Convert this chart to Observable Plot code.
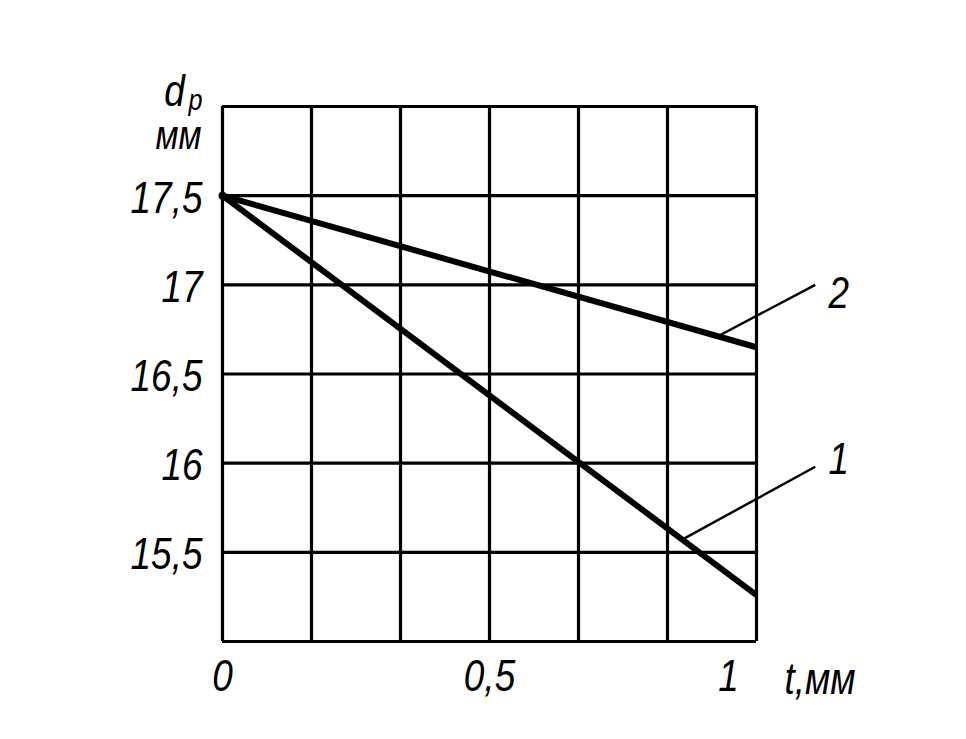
<!DOCTYPE html>
<html>
<head>
<meta charset="utf-8">
<script src="https://cdn.jsdelivr.net/npm/d3@7"></script>
<script src="https://cdn.jsdelivr.net/npm/@observablehq/plot@0.6"></script>
<style>
  html, body { margin: 0; padding: 0; background: #fff; }
  svg { display: block; }
</style>
</head>
<body>
<div id="chart"></div>
<script>
// Data
const tValues = [0, 1];                 // t, мм
const series1 = [17.5, 15.26];          // curve 1, d_p мм
const series2 = [17.5, 16.65];          // curve 2, d_p мм
const gridX = [0, 1/6, 2/6, 3/6, 4/6, 5/6, 1];
const gridY = [15, 15.5, 16, 16.5, 17, 17.5, 18];
const yTicks = [15.5, 16, 16.5, 17, 17.5];
const yTickLabels = ["15,5", "16", "16,5", "17", "17,5"];
const xTicks = [0, 0.5];
const xTickLabels = ["0", "0,5"];
const xLastTick = [1];
const xLastTickLabel = ["1"];
const curveNames = ["1", "2"];
// leader lines: [t on curve, d on curve, t at label, d at label]
const leader1 = [0.86, 15.57, 1.11, 15.98];
const leader2 = [0.927, 16.71, 1.11, 17.0];
const labelPos1 = [1.154, 16.02];
const labelPos2 = [1.154, 16.95];

const lines = [
  ...tValues.map((t, i) => ({t, d: series1[i], s: "1"})),
  ...tValues.map((t, i) => ({t, d: series2[i], s: "2"}))
];
const leaders = [
  {x1: leader1[0], y1: leader1[1], x2: leader1[2], y2: leader1[3]},
  {x1: leader2[0], y1: leader2[1], x2: leader2[2], y2: leader2[3]}
];
const curveLabels = [
  {t: labelPos1[0], d: labelPos1[1], text: curveNames[0]},
  {t: labelPos2[0], d: labelPos2[1], text: curveNames[1]}
];

const FONT = "'Liberation Sans', sans-serif";
const T = {fontStyle: "italic", fill: "#000", lineAnchor: "middle"};

const chart = Plot.plot({
  width: 966,
  height: 739,
  marginLeft: 222,
  marginRight: 210,
  marginTop: 106,
  marginBottom: 98,
  style: {background: "#fff", fontFamily: FONT, overflow: "visible"},
  x: {domain: [0, 1], axis: null},
  y: {domain: [15, 18], axis: null},
  marks: [
    Plot.ruleX(gridX, {x: d => d, y1: 15, y2: 18, stroke: "#000", strokeWidth: 3.2}),
    Plot.ruleY(gridY, {y: d => d, x1: 0, x2: 1, stroke: "#000", strokeWidth: 3.2}),
    Plot.line(lines, {x: "t", y: "d", z: "s", stroke: "#000", strokeWidth: 6, strokeLinecap: "butt"}),
    Plot.dot([{t: 0, d: 17.5}], {x: "t", y: "d", r: 4, fill: "#000"}),
    Plot.link(leaders, {x1: "x1", y1: "y1", x2: "x2", y2: "y2", stroke: "#000", strokeWidth: 2.4}),
    Plot.text(curveLabels, {x: "t", y: "d", text: "text", fontSize: 44, ...T}),
    // y tick labels
    Plot.text(yTicks, {x: 0, y: d => d, text: (d, i) => yTickLabels[i], textAnchor: "end", dx: -20, dy: 3, fontSize: 44, ...T}),
    // x tick labels
    Plot.text(xTicks, {x: d => d, y: 15, text: (d, i) => xTickLabels[i], dy: 35, fontSize: 44, ...T}),
    Plot.text(xLastTick, {x: d => d, y: 15, text: (d, i) => xLastTickLabel[i], dx: -28, dy: 35, fontSize: 44, ...T}),
    // axis titles
    Plot.text(["t,мм"], {frameAnchor: "bottom-right", text: d => d, textAnchor: "start", dx: 28, dy: 38, fontSize: 44, ...T}),
    Plot.text(["d"], {frameAnchor: "top-left", text: d => d, textAnchor: "middle", dx: -48, dy: -15, fontSize: 44, ...T}),
    Plot.text(["p"], {frameAnchor: "top-left", text: d => d, textAnchor: "middle", dx: -27, dy: -6, fontSize: 30, ...T}),
    Plot.text(["мм"], {frameAnchor: "top-left", text: d => d, textAnchor: "middle", dx: -44, dy: 30, fontSize: 40, ...T})
  ]
});

document.getElementById("chart").appendChild(chart);

// horizontally condense the lettering (narrow technical font look)
chart.querySelectorAll("text").forEach(t => {
  const tr = t.getAttribute("transform");
  if (tr) {
    t.setAttribute("transform", tr + " scale(0.84,1)");
  } else {
    const x = +(t.getAttribute("x") || 0);
    const y = +(t.getAttribute("y") || 0);
    t.setAttribute("transform", `translate(${x},${y}) scale(0.84,1)`);
    t.setAttribute("x", 0);
    t.setAttribute("y", 0);
  }
});
</script>
</body>
</html>
